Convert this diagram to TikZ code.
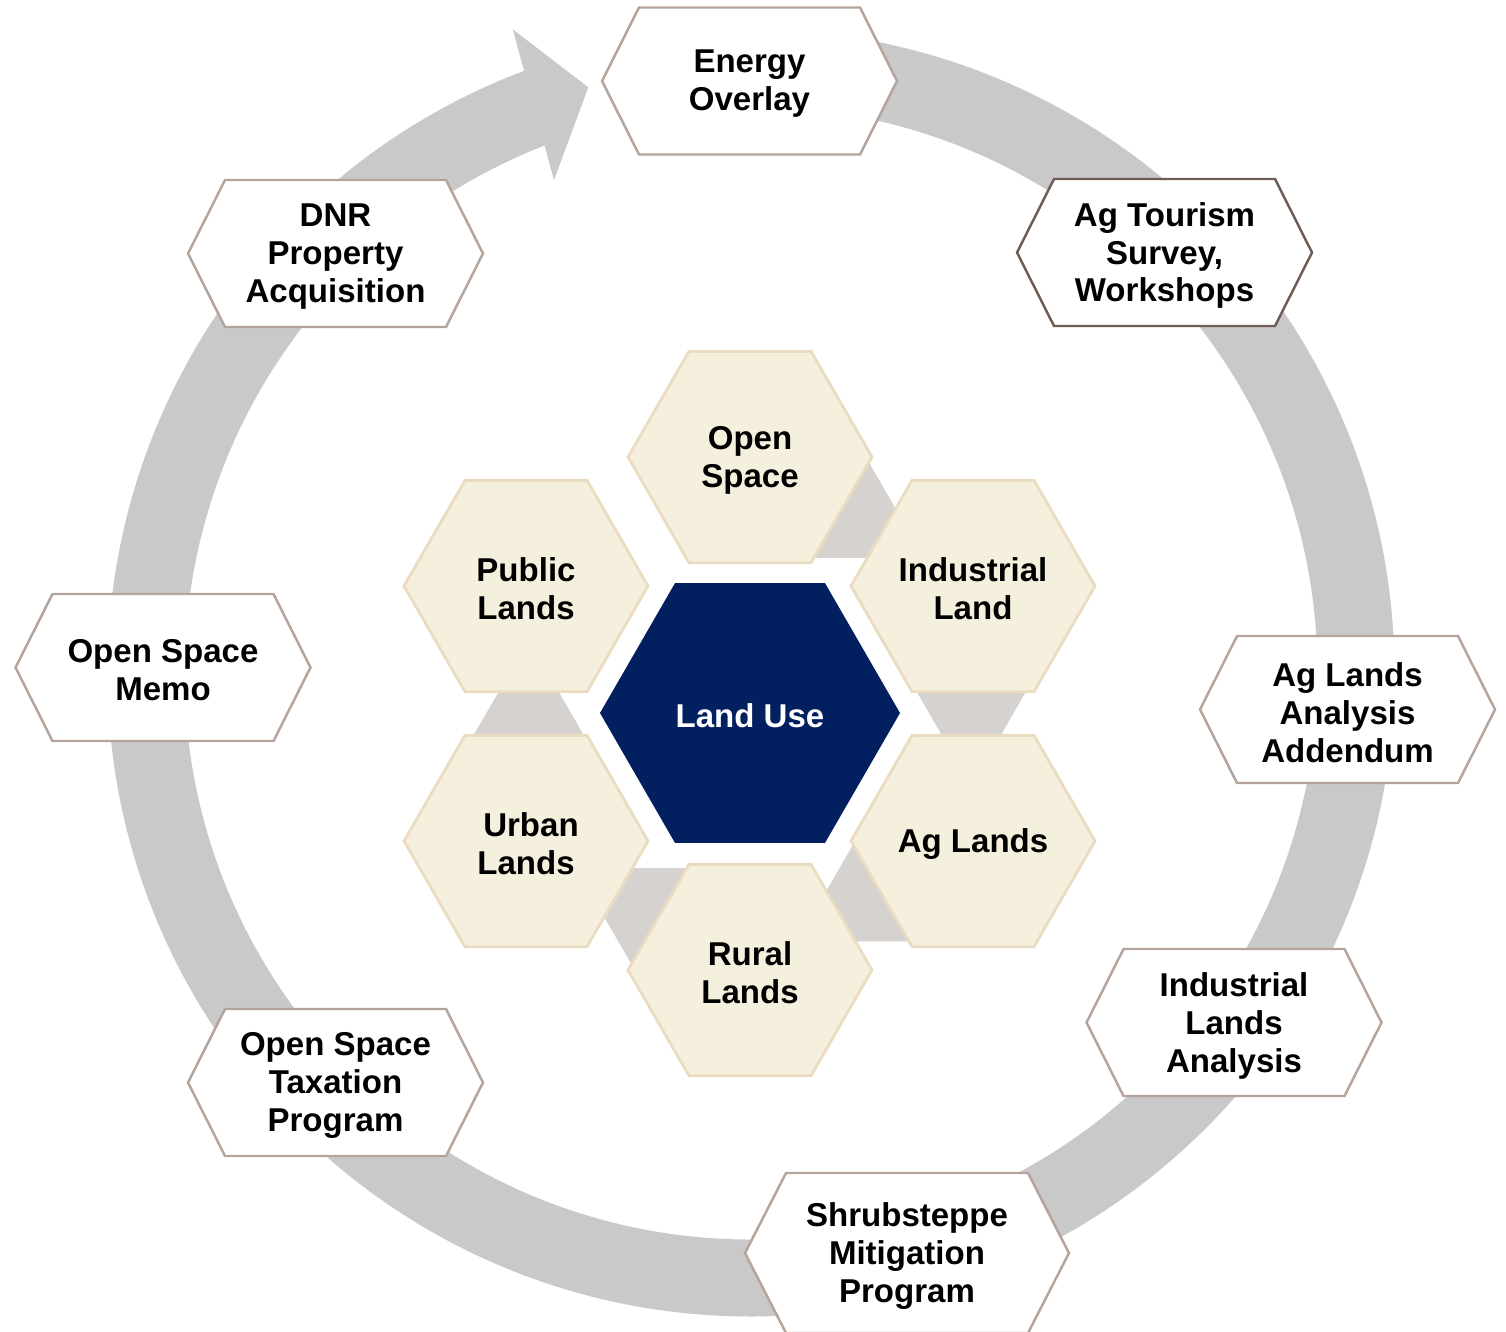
\documentclass[tikz,border=0pt]{standalone}
\usepackage{fontspec}
\setmainfont{Liberation Sans}
\definecolor{ringgray}{HTML}{C9C9C9}
\definecolor{obrd}{HTML}{B5A49C}
\definecolor{obrdd}{HTML}{6E5C55}
\definecolor{cream}{HTML}{F5EFDE}
\definecolor{creamb}{HTML}{EADCC0}
\definecolor{conn}{HTML}{D5D2D0}
\definecolor{navy}{HTML}{02205F}
\newcommand\outerhex[4]{%
  \path[#3] (#2) ++(-147.5,0) -- ++(37,-73.5) -- ++(221,0) -- ++(37,73.5) -- ++(-37,73.5) -- ++(-221,0) -- cycle;
  \node[lbl] (#1) at (#2) {#4};}
\begin{document}
\begin{tikzpicture}[x=0.02cm,y=-0.02cm,
  lbl/.style={align=center,font=\fontsize{18.8}{21.6}\selectfont\bfseries,inner sep=0pt,yshift=-0.06cm},
  ohex/.style={fill=white,draw=obrd,line width=1.4pt,line join=miter},
  ohexd/.style={fill=white,draw=obrdd,line width=1.4pt,line join=miter},
  ihex/.style={fill=cream,draw=creamb,line width=1.6pt,line join=miter},
  chex/.style={fill=conn},
  chub/.style={fill=navy}]
\useasboundingbox (0,0) rectangle (1506,1331);
\coordinate (ctr) at (751,673);
% ring arrow
\draw[ringgray,line width=1.54cm] (ctr) ++(-90:605) arc[start angle=-90,end angle=250.5,radius=605];
\coordinate (barbA) at (512.7,29.3);
\coordinate (tipA) at (588.3,87.3);
\coordinate (barbB) at (554,180);
\fill[ringgray] (barbA) -- (tipA) -- (barbB) -- cycle;
% outer steps
\outerhex{eo}{749.5,81}{ohex}{Energy\\Overlay}
\outerhex{at}{1164.5,252.5}{ohexd}{Ag Tourism\\Survey,\\Workshops}
\outerhex{ala}{1347.5,709.5}{ohex}{Ag Lands\\Analysis\\Addendum}
\outerhex{ila}{1234,1022.5}{ohex}{Industrial\\Lands\\Analysis}
\path[ohex] (907,1253) ++(-162,0) -- ++(41,-80) -- ++(242,0) -- ++(41,80) -- ++(-41,80) -- ++(-242,0) -- cycle;
\node[lbl] (smp) at (907,1253) {Shrubsteppe\\Mitigation\\Program};
\outerhex{ost}{335.5,1082.5}{ohex}{Open Space\\Taxation\\Program}
\outerhex{osm}{163,667.5}{ohex}{Open Space\\Memo}
\outerhex{dnr}{335.5,253.5}{ohex}{DNR\\Property\\Acquisition}
% connector hexagons
\coordinate (c1) at (837.1,507.7);
\coordinate (c2) at (971.3,685.8);
\coordinate (c3) at (884.2,891.1);
\coordinate (c4) at (662.9,918.3);
\coordinate (c5) at (528.7,740.2);
\foreach \c in {c1,c2,c3,c4,c5}{
  \fill[chex] (\c) +(0:58) -- +(60:58) -- +(120:58) -- +(180:58) -- +(240:58) -- +(300:58) -- cycle;}
% inner hexagons
\path[ihex] (750,457) +(0:122) -- +(60:122) -- +(120:122) -- +(180:122) -- +(240:122) -- +(300:122) -- cycle;
\node[lbl] (os) at (750,457) {Open\\Space};
\path[ihex] (973,586) +(0:122) -- +(60:122) -- +(120:122) -- +(180:122) -- +(240:122) -- +(300:122) -- cycle;
\node[lbl] (il) at (973,586) {Industrial\\Land};
\path[ihex] (973,841) +(0:122) -- +(60:122) -- +(120:122) -- +(180:122) -- +(240:122) -- +(300:122) -- cycle;
\node[lbl] (ag) at (973,841) {Ag Lands};
\path[ihex] (750,970) +(0:122) -- +(60:122) -- +(120:122) -- +(180:122) -- +(240:122) -- +(300:122) -- cycle;
\node[lbl] (rl) at (750,970) {Rural\\Lands};
\path[ihex] (526,841) +(0:122) -- +(60:122) -- +(120:122) -- +(180:122) -- +(240:122) -- +(300:122) -- cycle;
\node[lbl] (ul) at (526,841) {\hspace*{0.2cm}Urban\\Lands};
\path[ihex] (526,586) +(0:122) -- +(60:122) -- +(120:122) -- +(180:122) -- +(240:122) -- +(300:122) -- cycle;
\node[lbl] (pl) at (526,586) {Public\\Lands};
% hub
\path[chub] (750,713) +(0:150) -- +(60:150) -- +(120:150) -- +(180:150) -- +(240:150) -- +(300:150) -- cycle;
\node[lbl,text=white] (lu) at (750,713) {Land Use};
\end{tikzpicture}
\end{document}
